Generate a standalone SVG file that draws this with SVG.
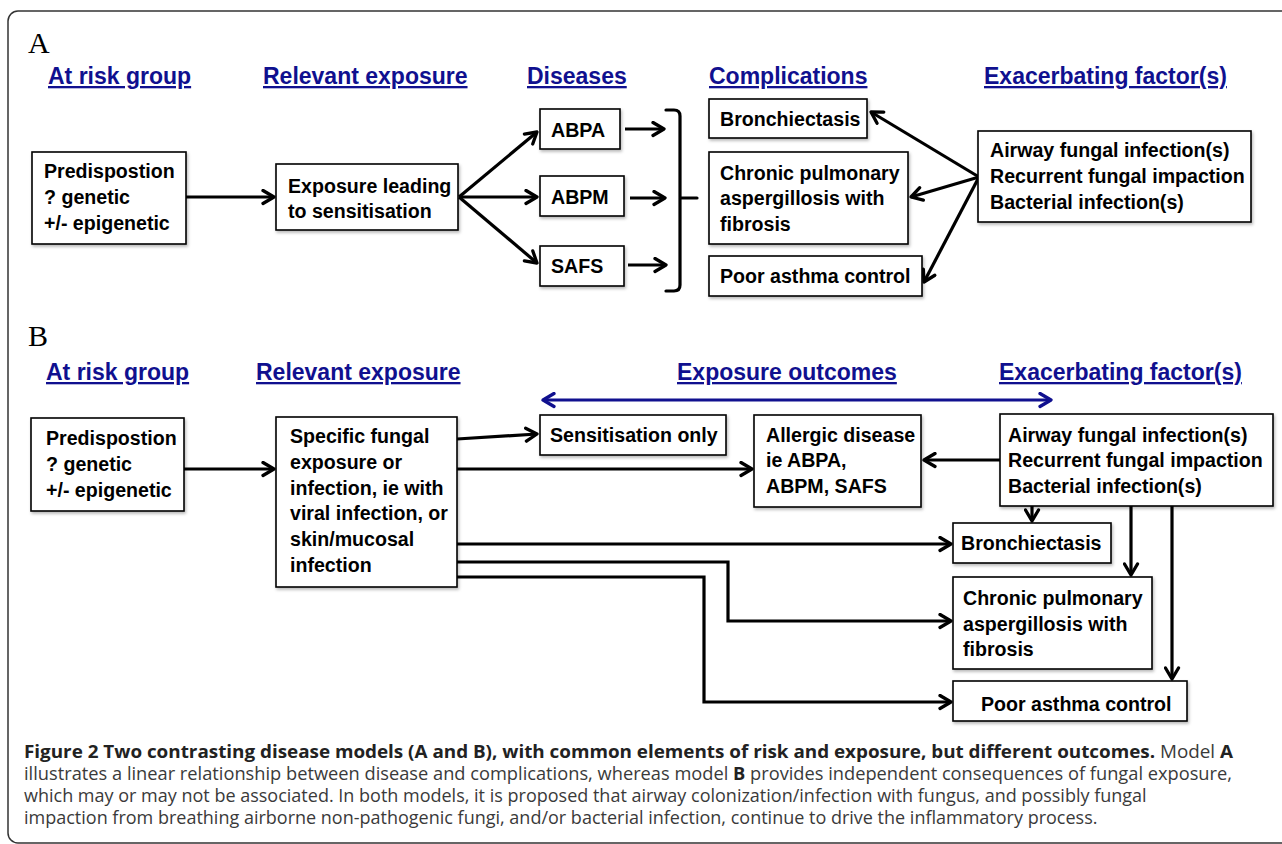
<svg xmlns="http://www.w3.org/2000/svg" width="1282" height="844" viewBox="0 0 1282 844">
<style>
.frame{fill:none;stroke:#333;stroke-width:1.5}
.panel{font-family:"Liberation Serif","Times New Roman",serif;font-size:30px;fill:#000}
.hdr{font-family:"Liberation Sans",Arial,sans-serif;font-weight:bold;font-size:23px;fill:#10108f;text-decoration:underline}
.box{fill:#fff;stroke:#000;stroke-width:1.6;filter:url(#sh)}
.lbl{font-family:"Liberation Sans",Arial,sans-serif;font-weight:bold;font-size:19.6px;fill:#000}
.con{fill:none;stroke:#000;stroke-width:3.2;marker-end:url(#ah)}
.plain{fill:none;stroke:#000;stroke-width:3.2;stroke-linecap:round;stroke-linejoin:round}
.blue{fill:none;stroke:#10108f;stroke-width:3.2;marker-start:url(#ahb);marker-end:url(#ahb)}
.cap{font-family:"Open Sans","Noto Sans",sans-serif;font-size:18px;fill:#3a3a3a}
.b{font-weight:bold;fill:#222}
</style>
<defs>
<filter id="sh" filterUnits="userSpaceOnUse" x="0" y="0" width="1282" height="844">
<feDropShadow dx="1.2" dy="2" stdDeviation="1.5" flood-color="#000" flood-opacity="0.28"/>
</filter>
<marker id="ah" viewBox="0 0 15 17" refX="13" refY="8.5" markerWidth="15" markerHeight="17" markerUnits="userSpaceOnUse" orient="auto-start-reverse">
<path d="M2,2 L13,8.5 L2,15" fill="none" stroke="#000" stroke-width="3.3" stroke-linecap="round" stroke-linejoin="round"/>
</marker>
<marker id="ahb" viewBox="0 0 15 17" refX="13" refY="8.5" markerWidth="15" markerHeight="17" markerUnits="userSpaceOnUse" orient="auto-start-reverse">
<path d="M2,2 L13,8.5 L2,15" fill="none" stroke="#10108f" stroke-width="3.3" stroke-linecap="round" stroke-linejoin="round"/>
</marker>
</defs>
<rect width="1282" height="844" fill="#fff"/>
<rect class="frame" x="8" y="11" width="1300" height="832" rx="10"/>

<g id="panel-labels">
<text class="panel" x="28" y="53">A</text>
<text class="panel" x="28" y="346">B</text>
</g>

<g id="headers-a">
<text class="hdr" x="48" y="84">At risk group</text>
<text class="hdr" x="263" y="84">Relevant exposure</text>
<text class="hdr" x="527" y="84">Diseases</text>
<text class="hdr" x="709" y="84">Complications</text>
<text class="hdr" x="984" y="84">Exacerbating factor(s)</text>
</g>
<g id="headers-b">
<text class="hdr" x="46" y="380">At risk group</text>
<text class="hdr" x="256" y="380">Relevant exposure</text>
<text class="hdr" x="677" y="380">Exposure outcomes</text>
<text class="hdr" x="999" y="380">Exacerbating factor(s)</text>
</g>

<g id="connectors">
<!-- A -->
<path class="con" d="M186,197 H274"/>
<path class="con" d="M459,197 L537,132"/>
<path class="con" d="M459,197 H537"/>
<path class="con" d="M459,197 L537,263"/>
<path class="con" d="M625,129 H664"/>
<path class="con" d="M630,198 H665"/>
<path class="con" d="M628,265 H666"/>
<path class="plain" d="M666,110 H674 Q680,110 680,116 V285 Q680,291 674,291 H666 M680,198 H697"/>
<path class="con" d="M979,177 L871,112"/>
<path class="con" d="M979,177 L911,197"/>
<path class="con" d="M979,177 L924,282"/>
<!-- B -->
<path class="blue" d="M543,400 H1051"/>
<path class="con" d="M184,469 H274"/>
<path class="con" d="M457,439 L537,434"/>
<path class="con" d="M457,469 H752"/>
<path class="con" d="M1000,460 H924"/>
<path class="con" d="M1032,506 V521"/>
<path class="con" d="M457,544 H951"/>
<path class="con" d="M1131,506 V575"/>
<path class="con" d="M457,562 H728 V621 H951"/>
<path class="con" d="M457,577 H704 V702 H951"/>
<path class="con" d="M1172,506 V679"/>
</g>

<g id="a-predisposition">
<rect class="box" x="32" y="152" width="154" height="92"/>
<text class="lbl" x="44" y="178">Predispostion<tspan x="44" y="204">? genetic</tspan><tspan x="44" y="230">+/- epigenetic</tspan></text>
</g>
<g id="a-exposure">
<rect class="box" x="276" y="164" width="182" height="66"/>
<text class="lbl" x="288" y="193">Exposure leading<tspan x="288" y="218">to sensitisation</tspan></text>
</g>
<g id="a-abpa">
<rect class="box" x="540" y="109" width="80" height="40"/>
<text class="lbl" x="551" y="137">ABPA</text>
</g>
<g id="a-abpm">
<rect class="box" x="540" y="176" width="84" height="40"/>
<text class="lbl" x="551" y="204">ABPM</text>
</g>
<g id="a-safs">
<rect class="box" x="540" y="246" width="84" height="40"/>
<text class="lbl" x="551" y="273">SAFS</text>
</g>
<g id="a-bronchiectasis">
<rect class="box" x="709" y="99" width="158" height="39"/>
<text class="lbl" x="720" y="126">Bronchiectasis</text>
</g>
<g id="a-chronic">
<rect class="box" x="709" y="152" width="199" height="92"/>
<text class="lbl" x="720" y="180">Chronic pulmonary<tspan x="720" y="205">aspergillosis with</tspan><tspan x="720" y="231">fibrosis</tspan></text>
</g>
<g id="a-poor-asthma">
<rect class="box" x="709" y="256" width="213" height="40"/>
<text class="lbl" x="720" y="283">Poor asthma control</text>
</g>
<g id="a-exacerbating">
<rect class="box" x="978" y="131" width="273" height="91"/>
<text class="lbl" x="990" y="157">Airway fungal infection(s)<tspan x="990" y="183">Recurrent fungal impaction</tspan><tspan x="990" y="209">Bacterial infection(s)</tspan></text>
</g>

<g id="b-predisposition">
<rect class="box" x="31" y="418" width="153" height="93"/>
<text class="lbl" x="46" y="445">Predispostion<tspan x="46" y="471">? genetic</tspan><tspan x="46" y="497">+/- epigenetic</tspan></text>
</g>
<g id="b-specific">
<rect class="box" x="276" y="417" width="181" height="170"/>
<text class="lbl" x="290" y="443">Specific fungal<tspan x="290" y="469">exposure or</tspan><tspan x="290" y="495">infection, ie with</tspan><tspan x="290" y="520">viral infection, or</tspan><tspan x="290" y="546">skin/mucosal</tspan><tspan x="290" y="572">infection</tspan></text>
</g>
<g id="b-sensitisation">
<rect class="box" x="540" y="415" width="186" height="40"/>
<text class="lbl" x="550" y="442">Sensitisation only</text>
</g>
<g id="b-allergic">
<rect class="box" x="754" y="415" width="167" height="92"/>
<text class="lbl" x="766" y="442">Allergic disease<tspan x="766" y="467">ie ABPA,</tspan><tspan x="766" y="493">ABPM, SAFS</tspan></text>
</g>
<g id="b-exacerbating">
<rect class="box" x="1000" y="414" width="273" height="92"/>
<text class="lbl" x="1008" y="442">Airway fungal infection(s)<tspan x="1008" y="467">Recurrent fungal impaction</tspan><tspan x="1008" y="493">Bacterial infection(s)</tspan></text>
</g>
<g id="b-bronchiectasis">
<rect class="box" x="953" y="523" width="158" height="40"/>
<text class="lbl" x="961" y="550">Bronchiectasis</text>
</g>
<g id="b-chronic">
<rect class="box" x="953" y="577" width="199" height="92"/>
<text class="lbl" x="963" y="605">Chronic pulmonary<tspan x="963" y="631">aspergillosis with</tspan><tspan x="963" y="656">fibrosis</tspan></text>
</g>
<g id="b-poor-asthma">
<rect class="box" x="953" y="681" width="234" height="40"/>
<text class="lbl" x="981" y="711">Poor asthma control</text>
</g>

<g id="caption">
<text class="cap" x="24" y="758" textLength="1209" lengthAdjust="spacingAndGlyphs"><tspan class="b">Figure 2 Two contrasting disease models (A and B), with common elements of risk and exposure, but different outcomes.</tspan> Model <tspan class="b">A</tspan></text>
<text class="cap" x="24" y="780" textLength="1208" lengthAdjust="spacingAndGlyphs">illustrates a linear relationship between disease and complications, whereas model <tspan class="b">B</tspan> provides independent consequences of fungal exposure,</text>
<text class="cap" x="24" y="802">which may or may not be associated. In both models, it is proposed that airway colonization/infection with fungus, and possibly fungal</text>
<text class="cap" x="24" y="824">impaction from breathing airborne non-pathogenic fungi, and/or bacterial infection, continue to drive the inflammatory process.</text>
</g>
</svg>
